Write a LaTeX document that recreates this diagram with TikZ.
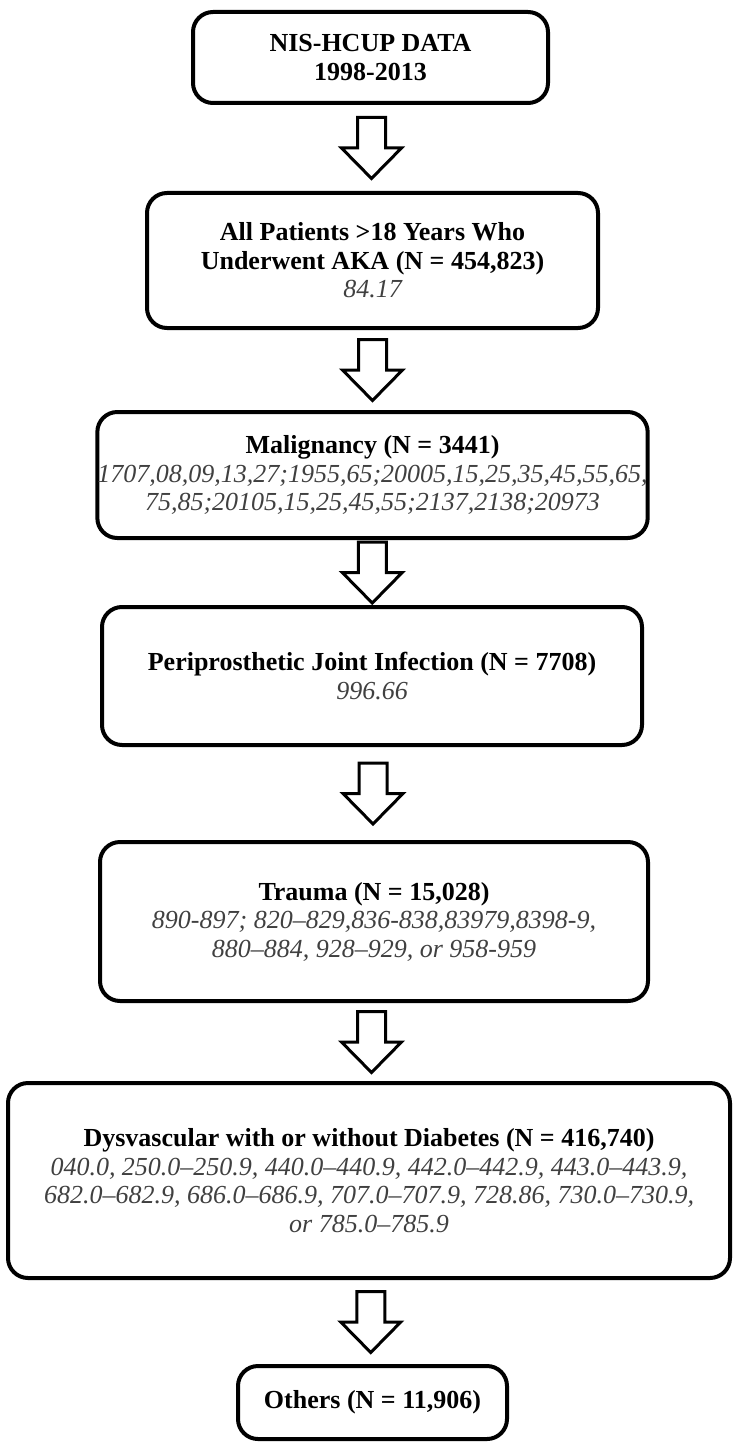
\documentclass[tikz,border=0pt]{standalone}
\usepackage{fontspec}
\setmainfont{Liberation Serif}
\usetikzlibrary{calc}
\definecolor{codegray}{HTML}{404040}
\newcommand\cd[1]{{\itshape\color{codegray}#1}}
\tikzset{
  box/.style={draw, line width=4pt, rounded corners=20pt, align=center,
    font=\fontsize{26}{28.5}\selectfont, inner sep=0pt},
  blockarrow/.pic={\draw[line width=3pt, fill=white, miter limit=10]
    (-14,-30.5) -- (14,-30.5) -- (14,0) -- (30,0) -- (0,30.5) -- (-30,0) -- (-14,0) -- cycle;}
}
\begin{document}
\begin{tikzpicture}[x=1pt,y=-1pt]
\useasboundingbox (0,0) rectangle (732,1442);
\node[box, minimum width=355pt, minimum height=91pt] (b1) at (370.5,57.5)
  {\textbf{NIS-HCUP DATA}\\\textbf{1998-2013}};
\node[box, minimum width=451pt, minimum height=135pt] (b2) at (372.5,260.5)
  {\textbf{All Patients >18 Years Who}\\\textbf{Underwent AKA (N = 454,823)}\\\cd{84.17}};
\node[box, minimum width=545pt, minimum height=126pt] (b3) at (372.5,475)
  {\textbf{Malignancy (N = 3441)}\\\cd{1707,08,09,13,27;1955,65;20005,15,25,35,45,55,65,}\\\cd{75,85;20105,15,25,45,55;2137,2138;20973}};
\node[box, minimum width=540pt, minimum height=138pt] (b4) at (372,676)
  {\textbf{Periprosthetic Joint Infection (N = 7708)}\\\cd{996.66}};
\node[box, minimum width=548pt, minimum height=159pt] (b5) at (374,921.5)
  {\textbf{Trauma (N = 15,028)}\\\cd{890-897; 820–829,836-838,83979,8398-9,}\\\cd{880–884, 928–929, or 958-959}};
\node[box, minimum width=722pt, minimum height=195pt] (b6) at (369,1180.5)
  {\textbf{Dysvascular with or without Diabetes (N = 416,740)}\\\cd{040.0, 250.0–250.9, 440.0–440.9, 442.0–442.9, 443.0–443.9,}\\\cd{682.0–682.9, 686.0–686.9, 707.0–707.9, 728.86, 730.0–730.9,}\\\cd{or 785.0–785.9}};
\node[box, minimum width=269pt, minimum height=73pt] (b7) at (372.5,1402.5)
  {\textbf{Others (N = 11,906)}};
\pic at ($(b1.south)!0.5!(b2.north)$) {blockarrow};
\pic at ($(b2.south)!0.5!(b3.north)$) {blockarrow};
\pic at ($(b3.south)!0.5!(b4.north)$) {blockarrow};
\pic at ($(b4.south)!0.5!(b5.north)$) {blockarrow};
\pic at ($(b5.south)!0.5!(b6.north)$) {blockarrow};
\pic at ($(b6.south)!0.5!(b7.north)$) {blockarrow};
\end{tikzpicture}
\end{document}
